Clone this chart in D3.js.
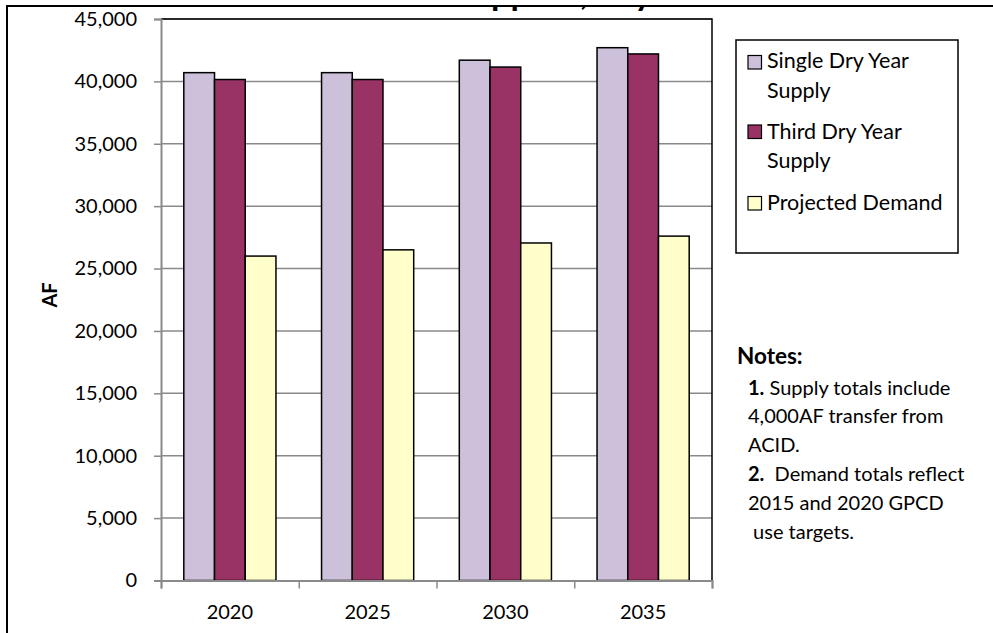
<!DOCTYPE html>
<html>
<head>
<meta charset="utf-8">
<script src="https://cdn.jsdelivr.net/npm/d3@7"></script>
<style>
  html, body { margin: 0; padding: 0; background: #fff; }
  svg { display: block; }
  text { font-family: Lato, "Open Sans", sans-serif; fill: #000; }
</style>
</head>
<body>
<script>
const categories = ["2020", "2025", "2030", "2035"];
const singleDryYearSupply = [40700, 40700, 41700, 42700];
const thirdDryYearSupply = [40150, 40150, 41150, 42200];
const projectedDemand = [26000, 26500, 27050, 27600];
const seriesNames = ["Single Dry Year Supply", "Third Dry Year Supply", "Projected Demand"];
const legendLines = [["Single Dry Year", "Supply"], ["Third Dry Year", "Supply"], ["Projected Demand"]];
const seriesColors = ["#CCC0DA", "#993366", "#FFFFCC"];
const yTickValues = [0, 5000, 10000, 15000, 20000, 25000, 30000, 35000, 40000, 45000];
const yAxisTitle = "AF";
const chartTitle = "Water Supplies, Dry Year";
const notesTitle = "Notes:";
const notes = [
  [{b: "1.", t: " Supply totals include"}],
  [{b: "", t: "4,000AF transfer from"}],
  [{b: "", t: "ACID."}],
  [{b: "2.", t: "  Demand totals reflect"}],
  [{b: "", t: "2015 and 2020 GPCD"}],
  [{b: "", t: " use targets."}]
];

const W = 993, H = 633;
const svg = d3.select("body").append("svg").attr("width", W).attr("height", H);

const plot = {left: 161, right: 712, top: 19, bottom: 580.5};
const gridColor = "#8a8a8a";

const series = [singleDryYearSupply, thirdDryYearSupply, projectedDemand];

const x = d3.scaleBand().domain(categories).range([plot.left, plot.right]).paddingInner(0).paddingOuter(0);
const bw = x.bandwidth();
const xInner = d3.scaleBand().domain(d3.range(series.length)).range([bw * 0.1655, bw * (1 - 0.1655)]);
const y = d3.scaleLinear().domain([0, 45000]).range([plot.bottom, plot.top]);

// title (mostly cut off at top, as in reference)
svg.append("defs").append("clipPath").attr("id", "titleClip")
  .append("rect").attr("x", 0).attr("y", 6).attr("width", W).attr("height", 20);
svg.append("text")
  .attr("clip-path", "url(#titleClip)")
  .attr("x", 352).attr("y", 4.5)
  .attr("font-size", 34).attr("font-weight", "bold")
  .text(chartTitle);

// outer border
svg.append("path").attr("d", `M7,633 L7,6 L${W},6`).attr("fill", "none").attr("stroke", "#000").attr("stroke-width", 2);

// gridlines
svg.append("g").selectAll("line").data(yTickValues.filter(d => d > 0)).join("line")
  .attr("x1", plot.left).attr("x2", plot.right)
  .attr("y1", d => y(d)).attr("y2", d => y(d))
  .attr("stroke", gridColor).attr("stroke-width", 1.5);

// plot area top/right border
svg.append("path").attr("d", `M${plot.left},${plot.top} L${plot.right},${plot.top} L${plot.right},${plot.bottom}`)
  .attr("fill", "none").attr("stroke", "#000").attr("stroke-width", 1.5);

// bars
const groups = svg.append("g").selectAll("g").data(categories).join("g")
  .attr("transform", d => `translate(${x(d)},0)`);
groups.selectAll("rect").data((c, ci) => series.map((s, si) => ({si, v: s[ci]}))).join("rect")
  .attr("x", d => xInner(d.si))
  .attr("width", xInner.bandwidth())
  .attr("y", d => y(d.v))
  .attr("height", d => y(0) - y(d.v))
  .attr("fill", d => seriesColors[d.si])
  .attr("stroke", "#000").attr("stroke-width", 1.5);

// y axis
const yAxis = svg.append("g").attr("transform", `translate(${plot.left},0)`)
  .call(d3.axisLeft(y).tickValues(yTickValues).tickSize(7).tickPadding(17).tickFormat(d3.format(",")));
yAxis.select(".domain").attr("stroke", gridColor).attr("stroke-width", 2);
yAxis.selectAll(".tick line").attr("stroke", gridColor).attr("stroke-width", 1.5);
yAxis.selectAll(".tick text").attr("font-size", 20).attr("font-family", "Lato").attr("fill", "#000");

// x axis: tick marks at category boundaries, labels at centers
const xEdges = d3.scaleLinear().domain([0, categories.length]).range([plot.left, plot.right]);
const xTickAxis = svg.append("g").attr("transform", `translate(0,${plot.bottom})`)
  .call(d3.axisBottom(xEdges).tickValues(d3.range(categories.length + 1)).tickSize(8).tickFormat(""));
xTickAxis.select(".domain").attr("stroke", gridColor).attr("stroke-width", 2);
xTickAxis.selectAll(".tick line").attr("stroke", gridColor).attr("stroke-width", 1.5);

const xAxis = svg.append("g").attr("transform", `translate(0,${plot.bottom})`)
  .call(d3.axisBottom(x).tickSize(0).tickPadding(24.3));
xAxis.select(".domain").remove();
xAxis.selectAll(".tick text").attr("font-size", 20).attr("font-family", "Lato").attr("fill", "#000");

// y axis title
svg.append("text")
  .attr("transform", "translate(57,295) rotate(-90)")
  .attr("text-anchor", "middle")
  .attr("font-size", 20).attr("font-weight", "bold")
  .text(yAxisTitle);

// legend
const legend = svg.append("g");
legend.append("rect").attr("x", 736).attr("y", 40).attr("width", 222).attr("height", 213)
  .attr("fill", "#fff").attr("stroke", "#000").attr("stroke-width", 1.5);
const swatchY = [55.5, 125, 196.5];
const textBase = [[68, 97.5], [139, 168], [210]];
legendLines.forEach((lines, i) => {
  legend.append("rect").attr("x", 748).attr("y", swatchY[i]).attr("width", 13.5).attr("height", 13.5)
    .attr("fill", seriesColors[i]).attr("stroke", "#000").attr("stroke-width", 1.2);
  lines.forEach((ln, j) => {
    legend.append("text").attr("x", 767).attr("y", textBase[i][j]).attr("font-size", 21.5).text(ln);
  });
});

// notes
svg.append("text").attr("x", 737).attr("y", 364).attr("font-size", 22.5).attr("font-weight", "bold").text(notesTitle);
const noteG = svg.append("g");
notes.forEach((line, i) => {
  const t = noteG.append("text").attr("x", 748).attr("y", 394.5 + i * 28.8).attr("font-size", 20).attr("xml:space", "preserve");
  line.forEach(seg => {
    if (seg.b) t.append("tspan").attr("font-weight", "bold").text(seg.b);
    t.append("tspan").text(seg.t);
  });
});
</script>
</body>
</html>
